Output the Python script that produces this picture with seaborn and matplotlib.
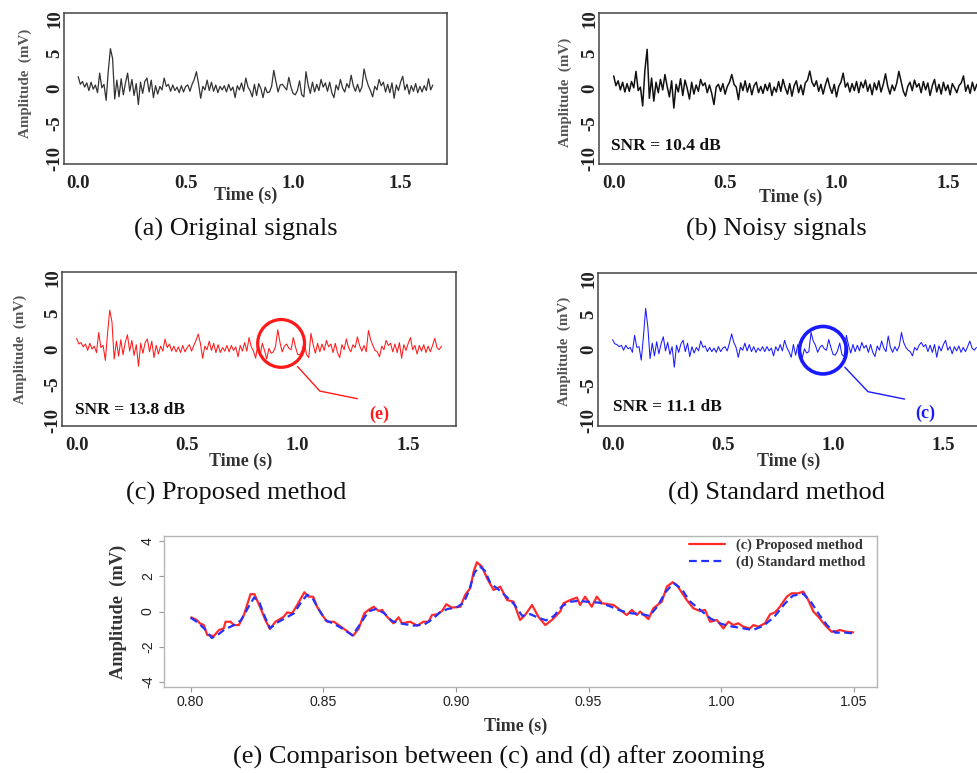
import numpy as np
import matplotlib
matplotlib.use("Agg")
import matplotlib.pyplot as plt
from matplotlib.patches import Ellipse
import seaborn as sns

# ---------------- data ----------------
sample_step = 0.01  # seconds between samples of the full-length traces

original = [
    1.7, 0.6, 1.0, 0.2, 0.8, -0.3, 0.9, -0.1, 0.5, -0.6,
    2.2, 0.1, 0.6, -1.7, 2.5, 5.7, 4.3, -1.5, 1.2, -1.2,
    1.4, -0.9, 0.8, 2.2, -0.4, 1.3, -1.0, 0.7, -2.3, 0.9,
    -0.7, 1.0, 1.5, -0.5, 1.2, -1.3, 0.4, -0.8, 0.3, -0.2,
    1.5, 0.3, 0.6, -0.4, 0.5, -0.3, 0.2, -0.6, 0.4, -0.5,
    0.3, 0.5, -0.4, 0.6, 1.3, 2.4, 0.7, -1.4, 0.3, -0.2,
    1.2, -0.3, 0.9, -0.4, 0.5, -0.6, 0.3, -0.2, 0.4, -0.5,
    0.6, -0.3, 0.2, -1.3, 0.4, -0.2, 0.8, -0.4, 1.5, 0.2,
    -0.3, -1.2, 0.6, -1.0, 0.7, 0.0, -1.3, 0.2, -0.6, -0.5,
    0.3, 2.6, 1.0, -0.5, 0.5, 0.6, 0.2, -0.2, 1.6, 0.2,
    -0.7, -0.9, -0.3, 1.1, -0.9, -1.2, 2.4, 0.5, -0.7, 0.9,
    -0.5, 0.6, -0.3, 1.3, 0.2, 0.8, -0.4, 0.9, -0.6, -1.3,
    0.5, -0.2, 1.3, 0.1, -0.5, 0.7, 0.1, 1.9, 0.4, -0.4,
    0.6, -0.5, 0.2, 2.8, 1.4, 0.4, -0.3, -1.2, 0.3, -0.2,
    1.3, 0.4, 0.9, -0.5, 0.6, -0.6, 0.8, -1.4, 0.5, -0.3,
    0.9, 1.75, -0.2, 0.6, -0.8, 0.4, -0.4, 0.7, -0.6, 0.3,
    -0.5, 0.4, -0.3, 1.4, -0.2, 0.5,
]

noisy = [
    1.8, 0.4, 1.1, -0.2, 0.9, -0.5, 0.7, -0.4, 1.0, 0.1,
    2.45, -0.3, 0.2, -2.5, 2.6, 5.6, -1.4, 1.5, -1.8, 0.9,
    -0.6, 1.3, -0.2, 2.0, 0.3, -1.2, 1.1, -2.8, 0.6, -0.5,
    1.4, -1.0, 1.2, 0.0, -1.5, 0.9, -0.8, 0.5, -0.4, 1.3,
    0.4, 0.8, -0.6, 0.5, -0.7, -2.3, 0.2, 0.6, -0.4, 0.7,
    -0.8, 0.3, 0.9, 2.0, 0.6, 0.2, -1.6, 0.8, -0.3, 1.1,
    -0.5, 0.7, -0.9, 0.4, 0.9, -0.6, 0.3, -0.7, 0.6, -0.3,
    0.8, -1.0, 0.2, -0.5, 1.0, -0.4, 1.3, 0.1, -0.8, 0.7,
    -1.1, 0.4, 1.1, -0.6, 0.5, -0.9, 0.8, 1.2, 2.5, 0.9,
    0.3, 1.1, -0.4, 0.6, -0.8, 0.5, 1.5, 0.2, -0.7, 0.6,
    -1.2, 0.3, 0.9, 2.2, 0.2, 0.8, -0.5, 0.7, -0.3, 1.0,
    -0.6, 0.9, 0.1, 1.2, -0.4, 0.6, -0.9, 0.8, -0.2, 1.1,
    -0.5, 0.6, 2.1, 0.3, -0.8, 0.5, -0.3, 0.7, 2.45, 1.0,
    -0.4, -1.1, 0.3, 0.9, -0.3, 1.2, 0.2, 0.7, -0.6, 1.0,
    -0.2, 0.8, -1.0, 0.4, 1.3, -0.5, 0.6, -0.8, 0.9, -0.3,
    0.5, -0.9, 0.7, 0.1, -0.6, 0.4, 0.8, 1.8, -0.4, 0.5,
    -0.7, 0.9, -0.3, 0.6, -0.1, 0.4,
]

proposed = [
    1.5, 0.7, 0.9, 0.3, 0.7, -0.2, 0.8, 0.0, 0.4, -0.5,
    2.3, 0.2, 0.5, -1.6, 2.2, 5.45, 3.8, -1.4, 1.1, -1.0,
    1.3, -0.8, 0.9, 2.0, -0.3, 1.2, -0.9, 0.6, -2.4, 0.8,
    -0.6, 0.9, 1.4, -0.4, 1.1, -1.2, 0.5, -0.7, 0.4, -0.3,
    1.4, 0.2, 0.7, -0.3, 0.4, -0.4, 0.3, -0.5, 0.5, -0.4,
    0.2, 0.6, -0.3, 0.5, 1.2, 2.1, 0.8, -1.3, 0.4, -0.1,
    1.1, -0.2, 0.8, -0.5, 0.6, -0.5, 0.2, -0.3, 0.5, -0.4,
    0.5, -0.2, 0.3, -1.1, 0.5, -0.3, 0.9, -0.3, 1.6, 0.3,
    -0.3, -1.3, 0.8, -0.9, 0.8, -0.2, -1.4, 0.1, -0.6, -0.4,
    0.4, 2.7, 0.9, -0.4, 0.4, 0.7, 0.1, -0.1, 1.6, 0.3,
    -0.8, -0.8, -0.2, 1.1, -0.8, -1.2, 2.2, 0.6, -0.6, 0.8,
    -0.4, 0.7, -0.2, 1.2, 0.3, 0.7, -0.5, 0.8, -0.5, -1.2,
    0.6, -0.1, 1.4, 0.2, -0.4, 0.6, 0.2, 1.7, 0.5, -0.3,
    0.5, -0.4, 2.6, 1.3, 0.5, -0.2, -0.4, -1.1, 0.4, -0.1,
    1.2, 0.5, 0.8, -0.4, 0.7, -0.5, 0.9, -1.3, 0.6, -0.2,
    0.8, 1.6, -0.1, 0.5, -0.7, 0.5, -0.3, 0.6, -0.5, 0.4,
    -0.4, 0.5, 1.5, 0.2, -0.1, 0.4,
]

standard = [
    1.4, 0.8, 0.7, 0.4, 0.6, -0.1, 0.6, 0.1, 0.3, -0.4,
    2.0, 0.3, 0.4, -1.5, 1.8, 5.8, 3.2, -1.3, 0.9, -0.9,
    1.1, -0.6, 0.8, 1.8, -0.2, 1.0, -0.7, 0.4, -2.5, 0.6,
    -0.4, 0.8, 1.3, -0.3, 0.9, -1.0, 0.4, -0.5, 0.3, -0.2,
    1.2, 0.3, 0.5, -0.3, 0.3, -0.3, 0.2, -0.4, 0.4, -0.3,
    0.2, 0.4, -0.2, 0.9, 2.2, 1.0, 0.3, -1.1, 0.3, -0.1,
    0.9, -0.2, 0.7, -0.3, 0.4, -0.4, 0.2, -0.2, 0.4, -0.3,
    0.4, -0.2, 0.2, -0.9, 0.4, -0.2, 0.7, -0.2, 1.3, 0.3,
    -0.3, -1.1, 0.7, -0.8, 0.7, -0.1, -1.2, 0.1, -0.5, -0.3,
    2.4, 1.2, 0.6, -0.4, 0.3, 0.6, 0.1, -0.1, 1.4, 0.3,
    -0.7, -0.8, -0.2, 0.9, -0.7, -1.0, 2.0, 0.6, -0.5, 0.7,
    -0.3, 0.6, -0.2, 1.0, 0.2, 0.6, -0.4, 0.7, -0.4, -1.0,
    0.5, -0.1, 1.2, 0.2, -0.3, 1.9, 0.3, -0.4, 0.4, -0.2,
    0.5, 2.4, 1.0, 0.3, -0.1, -0.3, -0.9, 0.3, -0.1, 0.6,
    1.0, 0.4, 0.7, -0.3, 0.6, -0.4, 0.7, -1.1, 0.5, -0.2,
    0.7, 1.3, -0.1, 0.4, -0.6, 0.4, -0.2, 0.5, -0.4, 0.3,
    -0.3, 0.4, 1.2, 0.2, -0.1, 0.3,
]

# zoomed window 0.80 - 1.05 s
zoom_time = [
    0.8003, 0.8023, 0.8035, 0.8050, 0.8063, 0.8088, 0.8107, 0.8125, 0.8132, 0.8151,
    0.8163, 0.8182, 0.8201, 0.8213, 0.8226, 0.8241, 0.8264, 0.8282, 0.8299, 0.8320,
    0.8351, 0.8364, 0.8383, 0.8402, 0.8429, 0.8445, 0.8462, 0.8477, 0.8496, 0.8515,
    0.8540, 0.8558, 0.8584, 0.8613, 0.8634, 0.8655, 0.8671, 0.8690, 0.8709, 0.8722,
    0.8741, 0.8765, 0.8784, 0.8797, 0.8828, 0.8854, 0.8878, 0.8897, 0.8910, 0.8929,
    0.8948, 0.8964, 0.8985, 0.9017, 0.9035, 0.9054, 0.9067, 0.9079, 0.9098, 0.9117,
    0.9142, 0.9167, 0.9193, 0.9217, 0.9242, 0.9261, 0.9287, 0.9311, 0.9337, 0.9362,
    0.9393, 0.9406, 0.9431, 0.9456, 0.9468, 0.9487, 0.9512, 0.9531, 0.9550, 0.9594,
    0.9619, 0.9644, 0.9663, 0.9682, 0.9694, 0.9726, 0.9744, 0.9776, 0.9795, 0.9817,
    0.9832, 0.9870, 0.9895, 0.9920, 0.9939, 0.9958, 0.9983, 1.0008, 1.0027, 1.0046,
    1.0064, 1.0083, 1.0108, 1.0121, 1.0140, 1.0165, 1.0184, 1.0203, 1.0221, 1.0247,
    1.0265, 1.0290, 1.0309, 1.0328, 1.0347, 1.0366, 1.0391, 1.0416, 1.0435, 1.0447,
    1.0473, 1.0497,
]
zoom_proposed = [
    -0.33, -0.48, -0.67, -0.77, -1.33, -1.39, -1.05, -0.96, -0.58, -0.58,
    -0.77, -0.77, -0.20, 0.37, 0.98, 0.98, 0.18, -0.48, -0.99, -0.58,
    -0.30, -0.05, -0.10, 0.37, 1.09, 0.84, 0.84, 0.27, -0.20, -0.58,
    -0.58, -0.77, -1.05, -1.37, -0.96, -0.10, 0.09, 0.27, 0.03, 0.09,
    -0.30, -0.67, -0.33, -0.67, -0.58, -0.80, -0.58, -0.58, -0.20, -0.16,
    0.03, 0.41, 0.22, 0.27, 0.94, 1.32, 2.26, 2.79, 2.55, 1.90,
    1.22, 1.41, 0.65, 0.56, -0.48, -0.20, 0.37, -0.30, -0.77, -0.48,
    0.00, 0.47, 0.65, 0.79, 0.37, 0.84, 0.27, 0.84, 0.47, 0.37,
    0.09, -0.20, 0.09, -0.20, 0.00, -0.43, 0.18, 0.56, 1.41, 1.66,
    1.51, 0.65, 0.18, 0.03, 0.09, -0.58, -0.48, -0.96, -0.58, -0.77,
    -0.67, -0.86, -0.96, -0.77, -0.86, -0.67, -0.16, -0.05, 0.27, 0.84,
    1.03, 1.03, 1.13, 0.65, 0.00, -0.30, -0.77, -1.15, -1.11, -1.05,
    -1.15, -1.18,
]
zoom_std_time = [
    0.800, 0.803, 0.806, 0.808, 0.810, 0.813, 0.816, 0.819, 0.822, 0.824,
    0.826, 0.828, 0.830, 0.833, 0.836, 0.839, 0.842, 0.844, 0.846, 0.848,
    0.851, 0.854, 0.857, 0.861, 0.864, 0.867, 0.870, 0.873, 0.876, 0.880,
    0.884, 0.888, 0.891, 0.894, 0.897, 0.900, 0.903, 0.905, 0.907, 0.909,
    0.911, 0.913, 0.916, 0.919, 0.922, 0.925, 0.928, 0.931, 0.934, 0.937,
    0.940, 0.943, 0.946, 0.950, 0.954, 0.958, 0.962, 0.966, 0.970, 0.973,
    0.976, 0.979, 0.982, 0.985, 0.988, 0.992, 0.996, 1.000, 1.004, 1.008,
    1.012, 1.016, 1.020, 1.024, 1.027, 1.031, 1.034, 1.037, 1.040, 1.043,
    1.047, 1.050,
]
zoom_standard = [
    -0.35, -0.65, -1.10, -1.50, -1.35, -1.00, -0.80, -0.50, 0.30, 0.80,
    0.50, -0.30, -0.95, -0.60, -0.35, -0.10, 0.60, 0.95, 0.75, 0.20,
    -0.50, -0.70, -0.95, -1.35, -0.70, 0.00, 0.15, -0.10, -0.55, -0.70,
    -0.80, -0.75, -0.45, -0.05, 0.15, 0.20, 0.50, 1.20, 2.20, 2.55,
    2.30, 1.60, 1.25, 0.85, 0.40, -0.25, -0.15, -0.35, -0.50, -0.25,
    0.30, 0.55, 0.60, 0.55, 0.50, 0.30, 0.05, -0.10, -0.15, -0.25,
    0.30, 1.10, 1.60, 1.30, 0.60, 0.10, -0.40, -0.70, -0.85, -0.95,
    -1.05, -0.80, -0.30, 0.45, 0.90, 1.00, 0.50, -0.20, -0.80, -1.20,
    -1.20, -1.25,
]

snr_noisy = 10.4
snr_proposed = 13.8
snr_standard = 11.1

full_xticks = [0.0, 0.5, 1.0, 1.5]
full_yticks = [-10, -5, 0, 5, 10]
zoom_xticks = [0.80, 0.85, 0.90, 0.95, 1.00, 1.05]
zoom_yticks = [-4, -2, 0, 2, 4]

captions = [
    "(a) Original signals",
    "(b) Noisy signals",
    "(c) Proposed method",
    "(d) Standard method",
    "(e) Comparison between (c) and (d) after zooming",
]
legend_labels = ["(c) Proposed method", "(d) Standard method"]

# ---------------- styling ----------------
sns.set_theme(style="white")
SERIF = ["Liberation Serif", "DejaVu Serif"]
SANS = ["Liberation Sans", "DejaVu Sans"]
plt.rcParams["font.family"] = SERIF

W, H = 978, 773
fig = plt.figure(figsize=(W / 100, H / 100), dpi=100)
fig.patch.set_facecolor("white")


def px_axes(left, top, right, bottom):
    """Axes placed by pixel box (origin at top-left of the figure)."""
    return fig.add_axes([left / W, 1 - bottom / H, (right - left) / W, (bottom - top) / H])


def style_full(ax, xlabel_pos, ylabel_pos):
    ax.set_xlim(-0.066, 1.716)
    ax.set_ylim(-10.8, 10.8)
    ax.set_xticks(full_xticks)
    ax.set_xticklabels([f"{v:.1f}" for v in full_xticks],
                       fontsize=13.5, fontweight="bold", color="#222")
    ax.set_yticks(full_yticks)
    ax.set_yticklabels([str(v) for v in full_yticks], rotation=90, va="center",
                       fontsize=13.5, fontweight="bold", color="#222")
    ax.tick_params(axis="x", length=0, pad=8)
    ax.tick_params(axis="y", length=0, pad=0.5)
    for sp in ax.spines.values():
        sp.set_color("#444")
        sp.set_linewidth(1.1)
        sp.set_visible(True)
    ax.set_xlabel("Time (s)", fontsize=13, fontweight="bold", color="#333", va="center")
    ax.xaxis.set_label_coords(*xlabel_pos)
    ax.set_ylabel("Amplitude  (mV)", fontsize=10.8, fontweight="bold", color="#555", va="center")
    ax.yaxis.set_label_coords(*ylabel_pos)
    ax.grid(False)


t_full = np.arange(len(original)) * sample_step

# (a) original
ax_a = px_axes(64, 13, 447, 164)
sns.lineplot(x=t_full, y=original, ax=ax_a, color="#333333", linewidth=0.9,
             estimator=None, legend=False)
style_full(ax_a, (0.473, -0.205), (-0.102, 0.534))

# (b) noisy
ax_b = px_axes(599, 13, 996, 164)
sns.lineplot(x=t_full, y=noisy, ax=ax_b, color="#111111", linewidth=1.1,
             estimator=None, legend=False)
style_full(ax_b, (0.482, -0.222), (-0.086, 0.474))
ax_b.text(-0.010, -8.2, f"SNR = {snr_noisy} dB", ha="left", va="center",
          fontsize=12.5, fontweight="bold", color="#111")

# (c) proposed
ax_c = px_axes(62, 272, 456, 426)
sns.lineplot(x=t_full, y=proposed, ax=ax_c, color="#ff1a1a", linewidth=0.75,
             estimator=None, legend=False)
style_full(ax_c, (0.454, -0.232), (-0.107, 0.497))
ax_c.text(-0.008, -8.5, f"SNR = {snr_proposed} dB", ha="left", va="center",
          fontsize=12.5, fontweight="bold", color="#111")
ax_c.add_patch(Ellipse((0.925, 0.78), width=0.212, height=6.7, fill=False,
                       edgecolor="#ff1a1a", linewidth=2.3))
ax_c.plot([0.999, 1.100, 1.270], [-2.45, -5.9, -6.97], color="#ff1a1a", linewidth=1.0)
ax_c.text(1.368, -9.2, "(e)", ha="center", va="center", fontsize=13,
          fontweight="bold", color="#ff1a1a")

# (d) standard
ax_d = px_axes(598, 273, 991, 426)
sns.lineplot(x=t_full, y=standard, ax=ax_d, color="#1a1aff", linewidth=0.75,
             estimator=None, legend=False)
style_full(ax_d, (0.485, -0.228), (-0.085, 0.486))
ax_d.text(0.003, -8.05, f"SNR = {snr_standard} dB", ha="left", va="center",
          fontsize=12.5, fontweight="bold", color="#111")
ax_d.add_patch(Ellipse((0.954, -0.1), width=0.213, height=6.7, fill=False,
                       edgecolor="#1a1aff", linewidth=2.6))
ax_d.plot([1.053, 1.158, 1.324], [-2.5, -5.95, -7.0], color="#1a1aff", linewidth=1.0)
ax_d.text(1.418, -9.0, "(c)", ha="center", va="center", fontsize=13,
          fontweight="bold", color="#1a1aff")

# (e) zoomed comparison
ax_e = px_axes(164, 536, 877, 687)
sns.lineplot(x=zoom_time, y=zoom_proposed, ax=ax_e, color="#ff2a2a", linewidth=1.6,
             estimator=None, label=legend_labels[0])
sns.lineplot(x=zoom_std_time, y=zoom_standard, ax=ax_e, color="#2233ff", linewidth=1.6,
             estimator=None, label=legend_labels[1])
ax_e.lines[-1].set_linestyle((0, (3.5, 2.0)))
ax_e.set_xlim(0.790, 1.0587)
ax_e.set_ylim(-4.28, 4.28)
ax_e.set_xticks(zoom_xticks)
ax_e.set_xticklabels([f"{v:.2f}" for v in zoom_xticks], fontsize=10.2,
                     family=SANS, color="#222")
ax_e.set_yticks(zoom_yticks)
ax_e.set_yticklabels([str(v) for v in zoom_yticks], rotation=90, va="center",
                     fontsize=10.2, family=SANS, color="#222")
ax_e.tick_params(axis="both", direction="out", length=3.5, width=0.8,
                 color="#999", pad=2, bottom=True, left=True)
ax_e.tick_params(axis="y", pad=3)
for sp in ax_e.spines.values():
    sp.set_color("#b5b5b5")
    sp.set_linewidth(1.0)
ax_e.set_xlabel("Time (s)", fontsize=13, fontweight="bold", color="#333", va="center")
ax_e.xaxis.set_label_coords(0.493, -0.263)
ax_e.set_ylabel("Amplitude  (mV)", fontsize=13.2, fontweight="bold", color="#333", va="center")
ax_e.yaxis.set_label_coords(-0.064, 0.5)
leg = ax_e.legend(loc="upper right", bbox_to_anchor=(0.988, 1.0), frameon=False,
                  borderaxespad=0, borderpad=0.2, handlelength=2.5, handletextpad=0.8,
                  labelspacing=0.25, prop={"family": SERIF, "weight": "bold", "size": 10.4})
for txt in leg.get_texts():
    txt.set_color("#333")
ax_e.grid(False)

# captions
caption_pos = [(236, 229), (776, 229), (236, 493), (776, 493), (499, 757)]
for text, (cx, cy) in zip(captions, caption_pos):
    fig.text(cx / W, 1 - cy / H, text, ha="center", va="center", fontsize=19,
             family=SERIF, color="#111")

fig.savefig("out.png", dpi=100, facecolor="white")
